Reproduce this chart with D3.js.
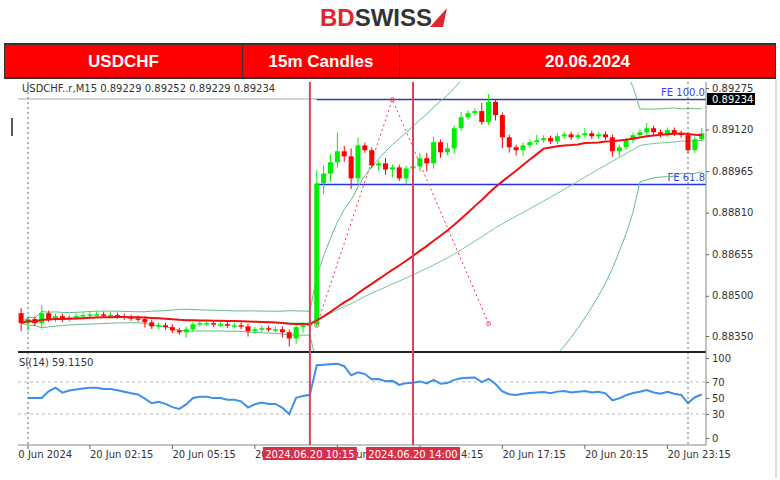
<!DOCTYPE html>
<html><head><meta charset="utf-8">
<script src="https://cdn.jsdelivr.net/npm/d3@7/dist/d3.min.js"></script>
<style>body{margin:0;background:#fff}svg{display:block}</style>
</head><body>
<svg id="c" width="780" height="480"></svg>
<script>
// ---- data (15m candles, index 0 = 20 Jun 00:00, index -1 = 19 Jun 23:45) ----
const firstIndex = -1;
const firstOpen = 0.88435;
const closes = [0.88398,0.88413,0.88398,0.88435,0.88413,0.88424,0.88413,0.88420,0.88424,0.88428,
0.88431,0.88431,0.88428,0.88428,0.88424,0.88420,0.88416,0.88413,0.88401,0.88386,
0.88390,0.88383,0.88371,0.88364,0.88375,0.88394,0.88398,0.88398,0.88394,0.88394,
0.88390,0.88390,0.88386,0.88368,0.88375,0.88379,0.88375,0.88375,0.88364,0.88341,
0.88383,0.88390,0.88394,0.88919,0.88956,0.88998,0.89039,0.89020,0.88938,0.89061,
0.89043,0.88986,0.88994,0.88971,0.88979,0.88938,0.88975,0.88983,0.89013,0.88994,
0.89073,0.89035,0.89050,0.89125,0.89166,0.89181,0.89189,0.89148,0.89223,0.89174,
0.89091,0.89054,0.89043,0.89061,0.89073,0.89080,0.89088,0.89076,0.89095,0.89102,
0.89091,0.89099,0.89106,0.89095,0.89102,0.89091,0.89039,0.89054,0.89080,0.89099,
0.89110,0.89125,0.89110,0.89102,0.89118,0.89106,0.89099,0.89043,0.89084,0.89106];
// wick lengths in pips above / below the body
const wickUp = [2,1,1,3,1,1,1,1,1,1, 1,1,1,1,1,1,1,1,1,1, 1,1,1,1,1,1,1,1,1,1, 1,1,1,1,1,1,1,1,1,1, 1,1,1,5,3,3,7,2,3,3, 1,1,1,2,1,1,1,1,2,2, 2,1,2,1,2,1,1,3,3,1, 1,1,1,1,1,2,1,1,1,1, 1,1,2,1,1,1,1,1,1,1, 1,2,1,1,1,1,1,1,1,2];
const wickDn = [3,3,1,2,1,1,1,1,1,1, 1,1,1,1,1,1,1,1,2,1, 1,1,1,1,2,1,1,1,1,1, 1,1,1,2,1,1,1,1,2,3, 2,2,1,1,4,3,2,2,4,2, 1,1,2,2,3,1,2,1,2,3, 2,2,1,2,1,1,1,1,1,2, 4,2,2,2,1,1,1,1,1,1, 1,1,1,1,1,1,2,2,1,1, 1,1,1,1,1,1,1,1,1,1];
const priceTicks = [0.89275,0.89120,0.88965,0.88810,0.88655,0.88500,0.88350];
const rsiTicks = [100,70,50,30,0];
const timeTickIdx = [0,9,21,33,45,57,69,81,93];
const timeTickLabels = ["20 Jun 2024","20 Jun 02:15","20 Jun 05:15","20 Jun 08:15","20 Jun 11:15","20 Jun 14:15","20 Jun 17:15","20 Jun 20:15","20 Jun 23:15"];
const markerIdx = [41,56];
const markerLabels = ["2024.06.20 10:15","2024.06.20 14:00"];
const separatorIdx = [0,96];
const feLevels = [{v:0.89232,label:"FE 100.0"},{v:0.88915,label:"FE 61.8"}];
const fePath = [{i:42,v:0.88390},{i:53,v:0.89232},{i:67,v:0.88396}];
const bidPrice = 0.89234;
const maPeriod = 34, bbPeriod = 48, slowPeriod = 48, rsiPeriod = 14;

// ---- derived candles ----
const candles = closes.map((c,k)=>{
  const o = k===0?firstOpen:closes[k-1];
  return {i:firstIndex+k,o,c,h:Math.max(o,c)+wickUp[k]*1e-4,l:Math.min(o,c)-wickDn[k]*1e-4};
});
function sma(n){return closes.map((_,k)=>d3.mean(closes.slice(Math.max(0,k-n+1),k+1)));}
function bb(n){return closes.map((_,k)=>{const s=closes.slice(Math.max(0,k-n+1),k+1);const m=d3.mean(s);const sd=Math.sqrt(d3.mean(s,x=>(x-m)*(x-m)));return {u:m+2*sd,l:m-2*sd};});}
const ma=sma(maPeriod), slow=sma(slowPeriod), bands=bb(bbPeriod);
const rsi=[];{let ag=0,al=0;for(let k=1;k<closes.length;k++){const d=closes[k]-closes[k-1];const g=Math.max(d,0),l=Math.max(-d,0);
 if(k<=rsiPeriod){ag+=g/rsiPeriod;al+=l/rsiPeriod;}else{ag=(ag*(rsiPeriod-1)+g)/rsiPeriod;al=(al*(rsiPeriod-1)+l)/rsiPeriod;}
 const r = al===0?100:100-100/(1+ag/al); rsi.push({i:firstIndex+k,v: k<4?50:r});}}

// ---- layout ----
const svg=d3.select("#c");
const L=18,R=706,T=82,MB=351,RT=353,RB=445;
const x=d3.scaleLinear().domain([0,96]).range([28,688]);
const y=d3.scaleLinear().domain([0.88350,0.89275]).range([336,88]);
const yr=d3.scaleLinear().domain([0,100]).range([438,358]);
const font="'DejaVu Sans',Verdana,sans-serif";

// logo
const logo=svg.append("text").attr("x",376).attr("y",26).attr("text-anchor","middle")
 .attr("font-family","'Liberation Sans',Arial,sans-serif").attr("font-weight","bold").attr("font-size",24);
logo.append("tspan").attr("fill","#e3242b").text("BD");
logo.append("tspan").attr("fill","#333").text("SWISS");
svg.append("path").attr("d","M430,27 L447,8 L443,27 Z").attr("fill","#e3242b");

// header
svg.append("rect").attr("x",4).attr("y",43).attr("width",772).attr("height",36).attr("fill","#333");
[[5,237,"USDCHF"],[243,156,"15m Candles"],[400,375,"20.06.2024"]].forEach(([bx,bw,t])=>{
 svg.append("rect").attr("x",bx).attr("y",45).attr("width",bw).attr("height",32).attr("fill","#ff0000");
 svg.append("text").attr("x",bx+bw/2).attr("y",67).attr("text-anchor","middle").attr("fill","#fff")
  .attr("font-family","'Liberation Sans',Arial,sans-serif").attr("font-weight","bold").attr("font-size",17).text(t);
});
svg.append("rect").attr("x",5).attr("y",79).attr("width",772).attr("height",398).attr("fill","#fff");
svg.append("line").attr("x1",776).attr("x2",776).attr("y1",79).attr("y2",478).attr("stroke","#bbb");
svg.append("line").attr("x1",12).attr("x2",12).attr("y1",118).attr("y2",136).attr("stroke","#222").attr("stroke-width",1.5);

// clips
const defs=svg.append("defs");
defs.append("clipPath").attr("id","cm").append("rect").attr("x",L).attr("y",T).attr("width",R-L).attr("height",MB-T);
defs.append("clipPath").attr("id","cr").append("rect").attr("x",L).attr("y",RT).attr("width",R-L).attr("height",RB-RT);

const gm=svg.append("g").attr("clip-path","url(#cm)");
gm.append("line").attr("x1",L).attr("x2",R).attr("y1",y(bidPrice)).attr("y2",y(bidPrice)).attr("stroke","#a0a8b8");
feLevels.forEach(f=>{
 gm.append("line").attr("x1",x(42)).attr("x2",R).attr("y1",y(f.v)).attr("y2",y(f.v)).attr("stroke","#2233ee").attr("stroke-width",1.3);
 gm.append("text").attr("x",R-1).attr("y",y(f.v)-4).attr("text-anchor","end").attr("fill","#3344ee")
  .attr("font-family",font).attr("font-size",10).text(f.label);
});
const lineGen=(arr,acc)=>d3.line().x((d,k)=>x(firstIndex+k)).y((d)=>y(acc(d)))(arr);
gm.append("path").attr("d",lineGen(bands,d=>d.u)).attr("fill","none").attr("stroke","#66bb88").attr("stroke-width",1);
gm.append("path").attr("d",lineGen(bands,d=>d.l)).attr("fill","none").attr("stroke","#66bb88").attr("stroke-width",1);
gm.append("path").attr("d",lineGen(slow,d=>d)).attr("fill","none").attr("stroke","#77c499").attr("stroke-width",1);
gm.append("path").attr("d",d3.line().x(d=>x(d.i)).y(d=>y(d.v))(fePath)).attr("fill","none")
 .attr("stroke","#ee3344").attr("stroke-dasharray","2,3").attr("stroke-width",1);
fePath.forEach(d=>gm.append("circle").attr("cx",x(d.i)).attr("cy",y(d.v)).attr("r",2).attr("fill","none").attr("stroke","#ee5566"));
const up="#00ee00",dn="#ff0000";
candles.forEach(d=>{
 const col=d.c>=d.o?up:dn;
 gm.append("line").attr("x1",x(d.i)).attr("x2",x(d.i)).attr("y1",y(d.h)).attr("y2",y(d.l)).attr("stroke",col);
 const y0=y(Math.max(d.o,d.c)),y1=y(Math.min(d.o,d.c));
 gm.append("rect").attr("x",x(d.i)-2.5).attr("width",5).attr("y",y0).attr("height",Math.max(1.5,y1-y0)).attr("fill",col);
});
gm.append("path").attr("d",lineGen(ma,d=>d)).attr("fill","none").attr("stroke","#ee1111").attr("stroke-width",2);

// RSI panel
const gr=svg.append("g").attr("clip-path","url(#cr)");
[70,30].forEach(v=>gr.append("line").attr("x1",L).attr("x2",R).attr("y1",yr(v)).attr("y2",yr(v)).attr("stroke","#bbb").attr("stroke-dasharray","3,3"));
gr.append("path").attr("d",d3.line().x(d=>x(d.i)).y(d=>yr(d.v))(rsi)).attr("fill","none").attr("stroke","#3d8fe8").attr("stroke-width",2);
svg.append("text").attr("x",19).attr("y",366).attr("font-family",font).attr("font-size",10).attr("fill","#333").text("SI(14) 59.1150");
svg.append("text").attr("x",22).attr("y",92).attr("font-family",font).attr("font-size",10).attr("fill","#333").text("USDCHF..r,M15  0.89229 0.89252 0.89229 0.89234");

separatorIdx.forEach(i=>svg.append("line").attr("x1",x(i)).attr("x2",x(i)).attr("y1",T).attr("y2",RB).attr("stroke","#666").attr("stroke-dasharray","2,3"));
svg.append("line").attr("x1",L).attr("x2",R).attr("y1",352).attr("y2",352).attr("stroke","#222").attr("stroke-width",2);
svg.append("line").attr("x1",L).attr("x2",R).attr("y1",RB).attr("y2",RB).attr("stroke","#888");
svg.append("line").attr("x1",R).attr("x2",R).attr("y1",T).attr("y2",RB).attr("stroke","#888");

const ay=svg.append("g").attr("transform",`translate(${R},0)`).call(d3.axisRight(y).tickValues(priceTicks).tickFormat(d3.format(".5f")).tickSize(3));
const ar=svg.append("g").attr("transform",`translate(${R},0)`).call(d3.axisRight(yr).tickValues(rsiTicks).tickSize(3));
[ay,ar].forEach(a=>{a.select(".domain").remove();a.selectAll("text").attr("font-family",font).attr("font-size",10).attr("fill","#333").attr("x",6);a.selectAll("line").attr("stroke","#666");});
svg.append("rect").attr("x",R+1).attr("y",y(bidPrice)-6).attr("width",48).attr("height",12).attr("fill","#000");
svg.append("text").attr("x",R+6).attr("y",y(bidPrice)+4).attr("fill","#fff").attr("font-family",font).attr("font-size",10).text(d3.format(".5f")(bidPrice));

// bottom time axis: each label clipped to the space not covered by the marker boxes
const boxes=markerIdx.map(i=>[x(i)-47,x(i)+47]);
timeTickIdx.forEach((i,k)=>{
 const px=k===0?x(i)-16:x(i);
 let lo=L, hi=770;
 boxes.forEach(([a,b])=>{ if(b<=px+2) lo=Math.max(lo,b); else if(a>px) hi=Math.min(hi,a); else {lo=Math.max(lo,b);} });
 svg.append("line").attr("x1",x(i)).attr("x2",x(i)).attr("y1",RB).attr("y2",RB+4).attr("stroke","#666");
 if(hi-lo<6) return;
 defs.append("clipPath").attr("id","tl"+k).append("rect").attr("x",lo).attr("y",446).attr("width",hi-lo).attr("height",20);
 svg.append("text").attr("clip-path",`url(#tl${k})`).attr("x",px).attr("y",458).attr("font-family",font).attr("font-size",10).attr("fill","#333").text(timeTickLabels[k]);
});
markerIdx.forEach((i,k)=>{
 svg.append("line").attr("x1",x(i)).attr("x2",x(i)).attr("y1",T).attr("y2",RB).attr("stroke","#e0405a").attr("stroke-width",2);
 svg.append("rect").attr("x",x(i)-47).attr("y",447).attr("width",94).attr("height",13).attr("fill","#d9304a");
 svg.append("text").attr("x",x(i)).attr("y",457.5).attr("text-anchor","middle").attr("fill","#fff").attr("font-family",font).attr("font-size",10).text(markerLabels[k]);
});
</script>
</body></html>
